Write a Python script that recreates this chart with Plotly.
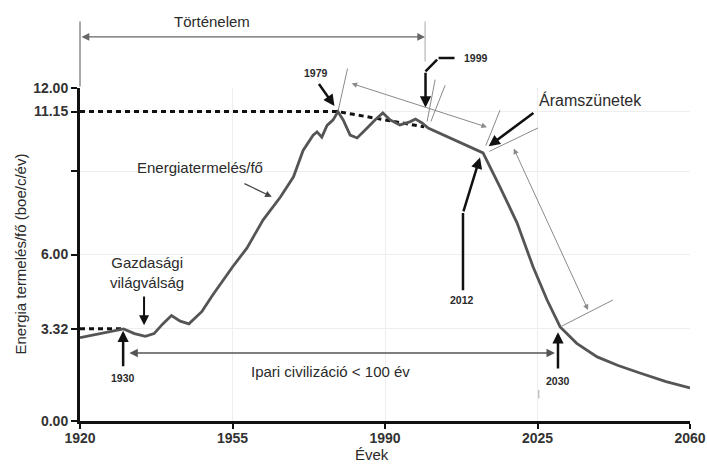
import plotly.graph_objects as go

# ---- data ----
years = [1920, 1925, 1930, 1932.5, 1935, 1937, 1939, 1941, 1943, 1945, 1948, 1950.5,
         1955, 1958.3, 1962, 1966, 1969, 1971.2, 1973.5, 1974.4, 1975.5, 1976.7, 1978.1,
         1979.2, 1980.4, 1982, 1983.6, 1985.9, 1987.7, 1989.5, 1991.2, 1993.4, 1995.7,
         1997, 1998.5, 1999.9, 2012.5, 2016.4, 2020.3, 2024, 2027.2, 2030.2, 2034,
         2038.7, 2043.5, 2048.5, 2054.5, 2060]
energy = [3.0, 3.15, 3.32, 3.15, 3.05, 3.15, 3.5, 3.8, 3.6, 3.5, 3.95, 4.55,
          5.55, 6.23, 7.24, 8.07, 8.8, 9.75, 10.3, 10.42, 10.23, 10.65, 10.85,
          11.15, 10.85, 10.3, 10.2, 10.56, 10.85, 11.1, 10.85, 10.67, 10.78,
          10.88, 10.74, 10.56, 9.66, 8.43, 7.14, 5.55, 4.36, 3.39, 2.8,
          2.31, 2.0, 1.73, 1.42, 1.19]

x_ticks = [1920, 1955, 1990, 2025, 2060]
y_ticks = [0, 3.32, 6, 9, 11.15, 12]
y_tick_labels = ["0.00", "3.32", "6.00", "", "11.15", "12.00"]

peak_level = [11.15, 11.15, 10.6]
peak_years = [1920, 1979.2, 1999]
crisis_level = [3.32, 3.32]
crisis_years = [1920, 1930]

Y_MAX = 12.0
PLOT_H = 333  # plot-area height in px

TXT = "#2b2b2b"
SANS = "Liberation Sans, Arial, Helvetica, sans-serif"
TICKF = dict(family=SANS, size=14, color="#333333", weight="bold")

fig = go.Figure()
fig.add_trace(go.Scatter(x=peak_years, y=peak_level, mode="lines",
                         line=dict(color="#111111", width=3, dash="5px,4px"),
                         hoverinfo="skip", showlegend=False, cliponaxis=False))
fig.add_trace(go.Scatter(x=crisis_years, y=crisis_level, mode="lines",
                         line=dict(color="#111111", width=3, dash="5px,4px"),
                         hoverinfo="skip", showlegend=False, cliponaxis=False))
fig.add_trace(go.Scatter(x=years, y=energy, mode="lines",
                         line=dict(color="#555555", width=2.8),
                         showlegend=False, cliponaxis=False))

ann = []


def py(v):
    return v / Y_MAX


def text(x, y, s, size=15, bold=False, **kw):
    f = dict(family=SANS, size=size, color=TXT)
    if bold:
        f["weight"] = "bold"
    ann.append(dict(x=x, y=py(y), xref="x", yref="paper", text=s, showarrow=False,
                    xanchor="center", yanchor="middle", font=f, **kw))


def arrow(x0, y0, x1, y1, color="#111111", width=2.5, head=2, size=1.0, both=False):
    ann.append(dict(x=x1, y=py(y1), ax=x0, ay=-(y0 - y1) * PLOT_H / Y_MAX,
                    xref="x", yref="paper", axref="x", ayref="pixel",
                    text="", showarrow=True, arrowcolor=color, arrowwidth=width,
                    arrowhead=head, arrowsize=size,
                    arrowside="end+start" if both else "end"))


GREY = "#8a8a8a"

# Történelem
text(1950.3, 14.38, "Történelem")
arrow(1920, 13.84, 1999.2, 13.84, color="#666666", width=1.3, head=2, size=1.2, both=True)
arrow(1920, 12.0, 1920, 14.4, color="#555555", width=1, head=0)
arrow(1999.2, 12.9, 1999.2, 14.4, color="#aaaaaa", width=1, head=0)

# 1979
text(1974.2, 12.54, "1979", size=10.5, bold=True)
arrow(1974.6, 12.2, 1978.4, 11.35, width=2.5, size=0.9)

# 1999
text(2010.9, 13.08, "1999", size=10.5, bold=True)
arrow(2006.3, 13.08, 2002.3, 13.08, width=2.5, head=0)
arrow(2002.3, 13.08, 1999.3, 12.6, width=2.5, head=0)
arrow(1999.3, 12.6, 1999.3, 11.3, width=2.5, size=0.9)

# measurement lines (thin grey)
arrow(1979.2, 11.15, 1981.4, 12.7, color=GREY, width=1, head=0)
arrow(1982.0, 12.18, 2013.4, 10.59, color=GREY, width=1, head=2, size=1.1, both=True)
arrow(1999.6, 10.74, 2001.5, 12.3, color=GREY, width=1, head=0)
arrow(2000.4, 10.74, 2003.8, 12.1, color=GREY, width=1, head=0)
arrow(2013.0, 9.87, 2016.4, 11.2, color=GREY, width=1, head=0)
arrow(2013.6, 9.69, 2025.1, 10.56, color=GREY, width=1, head=0)
arrow(2019.4, 9.87, 2036.6, 4.0, color=GREY, width=1, head=2, size=1.1, both=True)
arrow(2030.2, 3.39, 2042.3, 4.36, color=GREY, width=1, head=0)
arrow(2025.3, 0.76, 2025.3, 1.12, color="#aaaaaa", width=1, head=0)

# Áramszünetek
text(2037.2, 11.57, "Áramszünetek", size=16)
arrow(2024.4, 11.14, 2013.8, 9.9, width=2.5, size=0.9)

# Energiatermelés/fő
text(1947.5, 9.12, "Energiatermelés/fő")
arrow(1957.4, 8.58, 1964.0, 8.08, color="#444444", width=1.2, size=1.1)

# Gazdasági világválság
text(1935.4, 5.35, "Gazdasági<br>világválság")
arrow(1934.7, 4.54, 1934.7, 3.45, width=2, size=1.0)

# 1930
text(1929.9, 1.55, "1930", size=10.5, bold=True)
arrow(1929.9, 1.92, 1929.9, 3.25, width=2.5, size=0.9)

# Ipari civilizáció
text(1977.6, 1.77, "Ipari civilizáció &lt; 100 év")
arrow(1931.0, 2.45, 2029.0, 2.45, color="#555555", width=1.4, size=1.2, both=True)

# 2012
text(2007.7, 4.36, "2012", size=10.5, bold=True)
arrow(2007.9, 4.66, 2007.9, 7.5, width=2.5, head=0)
arrow(2007.9, 7.5, 2011.8, 9.5, width=2.5, size=0.9)

# 2030
text(2029.7, 1.44, "2030", size=10.5, bold=True)
arrow(2029.7, 1.84, 2029.7, 3.2, width=2.5, size=0.9)

# axis titles
ann.append(dict(x=0, y=0.5, xref="paper", yref="paper", xshift=-60, textangle=-90,
                xanchor="center", yanchor="middle",
                text="Energia termelés/fő (boe/c/év)", showarrow=False,
                font=dict(family=SANS, size=15, color=TXT)))
ann.append(dict(x=1987, y=0, xref="x", yref="paper", yshift=-33,
                xanchor="center", yanchor="middle",
                text="Évek", showarrow=False, font=dict(family=SANS, size=15, color=TXT)))

# body margin is removed in the page, so the plot area sits at x 80..690, y 88..421
fig.update_layout(
    width=707, height=466,
    margin=dict(l=80, r=17, t=88, b=45, autoexpand=False),
    paper_bgcolor="white", plot_bgcolor="white",
    annotations=ann,
    hovermode=False,
    xaxis=dict(range=[1920, 2060], tickvals=x_ticks, showline=True, linecolor="#111111",
               linewidth=3, ticks="outside", ticklen=5, tickwidth=2, tickcolor="#111111",
               showgrid=True, gridcolor="#eeeeee", gridwidth=1, zeroline=False,
               tickfont=TICKF, automargin=False, ticklabelstandoff=-3),
    yaxis=dict(range=[0, Y_MAX], tickvals=y_ticks, ticktext=y_tick_labels, showline=True,
               linecolor="#111111", linewidth=3, ticks="outside", ticklen=6, tickwidth=2,
               tickcolor="#111111", showgrid=True, gridcolor="#eeeeee", gridwidth=1,
               zeroline=False, tickfont=TICKF, automargin=False),
)

fig.write_html("out.html",
               config={"displayModeBar": False},
               post_script="document.body.style.margin='0px';"
                           "document.body.style.overflow='hidden';")
